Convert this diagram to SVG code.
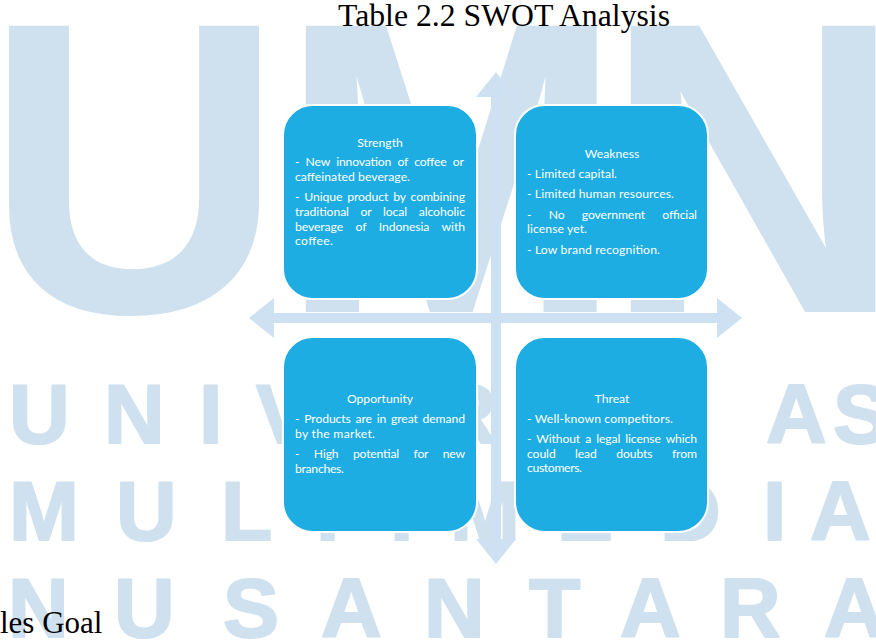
<svg xmlns="http://www.w3.org/2000/svg" width="876" height="640" viewBox="0 0 876 640">
<style>
.wm{fill:#CFE0EF;font-family:"Liberation Sans",Arial,sans-serif;font-weight:bold}
.big{font-size:416px}
.sm{font-size:84px;stroke:#CFE0EF;stroke-width:2;stroke-linejoin:round}
.arrow{fill:#CDE1F3}
.box{fill:#1EADE3;stroke:#FFFFFF;stroke-width:2}
.t{fill:#FFFFFF;font-family:Lato,"Liberation Sans",sans-serif;font-size:12.2px}
.h{text-anchor:middle}
.title{font-family:"Liberation Serif","Times New Roman",serif;font-size:31px;fill:#000000}
</style>
<rect x="0" y="0" width="876" height="640" fill="#FFFFFF"/>
<g id="watermark">
<text class="wm big" x="-16" y="312">U</text>
<text class="wm big" x="278" y="312">M</text>
<text class="wm big" x="603" y="312">N</text>
<text class="wm sm" x="9 104 199 256 346 436 521 606 650 766 833" y="443">UNIVERSITAS</text>
<text class="wm sm" x="9 116 221 302 390 450 557 660 763 810" y="540">MULTIMEDIA</text>
<text class="wm sm" x="8 114 223 321 424 529 620 720 824" y="637">NUSANTARA</text>
</g>
<g id="connectors">
<polygon class="arrow" points="249,318 274,298 274,313 717,313 717,298 742,318 717,338 717,323 274,323 274,338"/>
<polygon class="arrow" points="496,72 516,97 501,97 501,539 516,539 496,564 476,539 491,539 491,97 476,97"/>
</g>
<g id="strength">
<rect class="box" x="283" y="105" width="194" height="194" rx="30"/>
<text class="t h" x="380" y="147">Strength</text>
<text class="t" x="295" y="166" textLength="169" lengthAdjust="spacing" word-spacing="3.3">- New innovation of coffee or</text>
<text class="t" x="295" y="181" textLength="115" lengthAdjust="spacing">caffeinated beverage.</text>
<text class="t" x="295" y="201" textLength="170" lengthAdjust="spacing" word-spacing="1.9">- Unique product by combining</text>
<text class="t" x="295" y="216" textLength="170" lengthAdjust="spacing" word-spacing="8.5">traditional or local alcoholic</text>
<text class="t" x="295" y="230.5" textLength="170" lengthAdjust="spacing" word-spacing="9.5">beverage of Indonesia with</text>
<text class="t" x="295" y="245" textLength="38" lengthAdjust="spacing">coffee.</text>
</g>
<g id="weakness">
<rect class="box" x="515" y="105" width="193" height="194" rx="30"/>
<text class="t h" x="612" y="158">Weakness</text>
<text class="t" x="527" y="178" textLength="90" lengthAdjust="spacing">- Limited capital.</text>
<text class="t" x="527" y="198" textLength="147" lengthAdjust="spacing">- Limited human resources.</text>
<text class="t" x="527" y="219" textLength="170" lengthAdjust="spacing" word-spacing="14.3">- No government official</text>
<text class="t" x="527" y="233" textLength="60" lengthAdjust="spacing">license yet.</text>
<text class="t" x="527" y="254" textLength="133" lengthAdjust="spacing">- Low brand recognition.</text>
</g>
<g id="opportunity">
<rect class="box" x="283" y="337" width="194" height="195" rx="30"/>
<text class="t h" x="380" y="403">Opportunity</text>
<text class="t" x="295" y="423" textLength="170" lengthAdjust="spacing" word-spacing="1.8">- Products are in great demand</text>
<text class="t" x="295" y="437.5" textLength="80" lengthAdjust="spacing">by the market.</text>
<text class="t" x="295" y="458" textLength="170" lengthAdjust="spacing" word-spacing="11.6">- High potential for new</text>
<text class="t" x="295" y="472.5" textLength="49" lengthAdjust="spacing">branches.</text>
</g>
<g id="threat">
<rect class="box" x="515" y="337" width="193" height="195" rx="30"/>
<text class="t h" x="612" y="403">Threat</text>
<text class="t" x="527" y="423" textLength="146" lengthAdjust="spacing">- Well-known competitors.</text>
<text class="t" x="527" y="443" textLength="170" lengthAdjust="spacing" word-spacing="2.2">- Without a legal license which</text>
<text class="t" x="527" y="457.5" textLength="170" lengthAdjust="spacing" word-spacing="16.4">could lead doubts from</text>
<text class="t" x="527" y="472" textLength="55" lengthAdjust="spacing">customers.</text>
</g>
<text class="title" x="338" y="26" textLength="332" lengthAdjust="spacingAndGlyphs">Table 2.2 SWOT Analysis</text>
<text class="title" x="0" y="633">les Goal</text>
</svg>
